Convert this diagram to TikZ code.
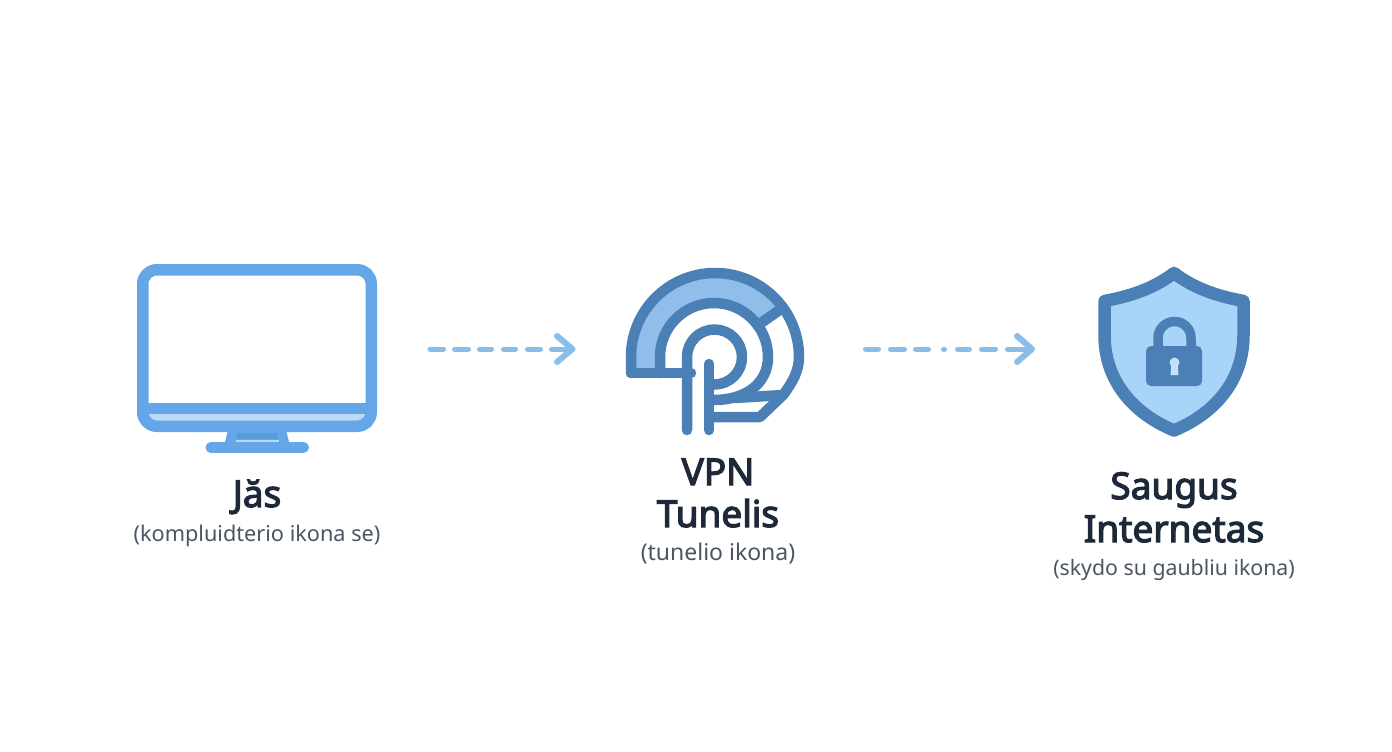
\documentclass[tikz,border=0pt]{standalone}
\usepackage{fontspec}
\setmainfont{Noto Sans}
\newfontfamily\ttlfont[FakeBold=3.2]{Noto Sans}
\definecolor{mon}{HTML}{65A6E8}
\definecolor{monl}{HTML}{BBDAF6}
\definecolor{mond}{HTML}{569BDD}
\definecolor{arr}{HTML}{88BEE9}
\definecolor{dk}{HTML}{4A80B6}
\definecolor{tun}{HTML}{90BDE9}
\definecolor{shl}{HTML}{A9D4F9}
\definecolor{keyh}{HTML}{C5E0F7}
\definecolor{ttl}{HTML}{1D2939}
\definecolor{sub}{HTML}{4B5563}
\tikzset{
 titletxt/.style={font=\ttlfont\fontsize{37}{42}\selectfont,text=ttl,anchor=base,inner sep=0pt},
 subtxt/.style={text=sub,anchor=base,inner sep=0pt},
 arrline/.style={draw=arr,line width=5pt,line cap=round},
 arrhead/.style={draw=arr,line width=6pt,line cap=round,line join=round},
 tunline/.style={draw=dk,line width=10.5pt,line cap=round,line join=round},
 monline/.style={draw=mon,line width=11.5pt,line join=round}
}
\begin{document}
\begin{tikzpicture}[x=1pt,y=-1pt]
\useasboundingbox (0,0) rectangle (1392,752);
\fill[white] (0,0) rectangle (1392,752);
% monitor
\fill[mon] (228,430) -- (286,430) -- (290,446) -- (224,446) -- cycle;
\fill[mond] (237,433) rectangle (278,439);
\fill[monl] (236,439.5) rectangle (279,441.5);
\draw[mon,line width=11pt,line cap=round] (211,447.5) -- (303.5,447.5);
\fill[monl] (147,408) -- (367,408) -- (367,414) [rounded corners=8pt] -- (367,422) -- (147,422) [sharp corners] -- (147,414) -- cycle;
\draw[monline,rounded corners=14pt] (142.75,269.75) rectangle (371.25,426.25);
\fill[mon] (147,403) rectangle (367,414);
% arrow 1
\foreach \s/\e in {430/443.5,454.5/468.5,479.5/491.5,503.5/515.5,527.5/540.5,551.5/570}
  \draw[arrline] (\s,349) -- (\e,349);
\draw[arrhead] (557,336) -- (572.5,349) -- (557,362);
% arrow 2
\foreach \s/\e in {865.5/878.5,890.5/904.5,915.5/928.5,943.5/944.5,957.5/969.5,981.5/995.5,1007.5/1030}
  \draw[arrline] (\s,349) -- (\e,349);
\draw[arrhead] (1017,336) -- (1032,349) -- (1017,362);
% tunnel icon
\fill[tun] (631,373) -- (631,357) arc[start angle=180,end angle=36,radius=84pt] -- (757.7,325.3) arc[start angle=36,end angle=180,radius=54pt] -- (660,373) -- cycle;
\draw[tunline] (631,373) -- (631,357) arc[start angle=180,end angle=0,radius=84pt] .. controls (799,370) and (793,382) .. (783,395) -- (760,417) -- (714,417);
\draw[tunline] (660,373) -- (660,357) arc[start angle=180,end angle=0,radius=54pt] .. controls (768,384) and (745,400) .. (714,400);
\draw[tunline] (735,398) -- (783,395);
\draw[tunline] (757.7,325.3) -- (783,307.6);
\draw[tunline] (631,373) -- (691,373);
\draw[tunline] (687,430) -- (687,357) arc[start angle=180,end angle=-90,radius=27.5pt] -- (709,384.5);
\draw[tunline] (709,364) -- (709,430);
% shield
\filldraw[fill=shl,draw=dk,line width=12.5pt,line join=round] (1174,273) .. controls (1196,290) and (1222,297) .. (1243.5,301) -- (1243.5,335) .. controls (1243.5,378) and (1218,412) .. (1174,430.5) .. controls (1130,412) and (1104.5,378) .. (1104.5,335) -- (1104.5,301) .. controls (1126,297) and (1152,290) .. cycle;
\fill[dk,rounded corners=5pt] (1146,346) rectangle (1202,386);
\draw[dk,line width=9.5pt] (1158,348) -- (1158,338) arc[start angle=180,end angle=0,radius=16.5pt] -- (1191,348);
\fill[keyh] (1174.5,362.5) circle[radius=5pt];
\fill[keyh] (1171.5,363) -- (1177.5,363) -- (1178.5,375) -- (1170.5,375) -- cycle;
% labels
\node[titletxt] (t1) at (257,507) {Jăs};
\node[subtxt,font=\fontsize{21.7}{26}\selectfont] (s1) at (257,541.5) {(kompluidterio ikona se)};
\node[titletxt] (t2a) at (718,485) {VPN};
\node[titletxt] (t2b) at (718,527) {Tunelis};
\node[subtxt,font=\fontsize{23}{27}\selectfont] (s2) at (718,560.5) {(tunelio ikona)};
\node[titletxt] (t3a) at (1174,499) {Saugus};
\node[titletxt] (t3b) at (1174,542) {Internetas};
\node[subtxt,font=\fontsize{21.3}{26}\selectfont] (s3) at (1174,575) {(skydo su gaubliu ikona)};
\end{tikzpicture}
\end{document}
